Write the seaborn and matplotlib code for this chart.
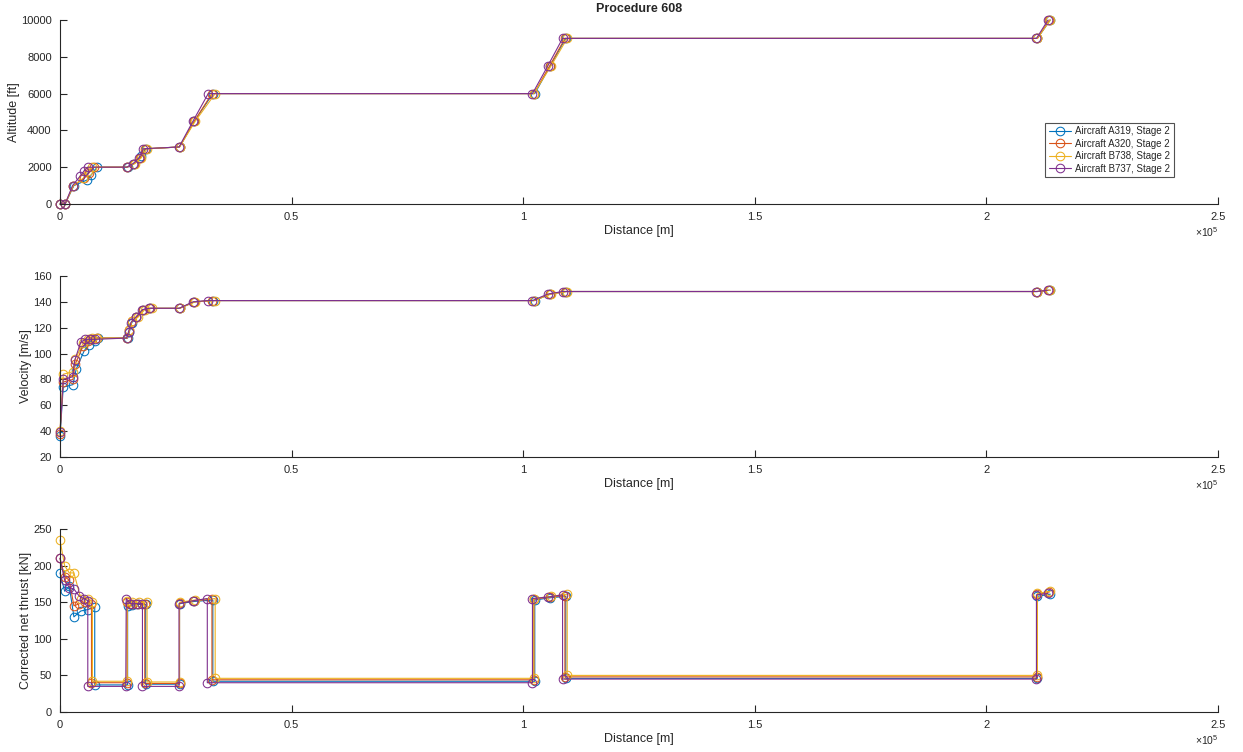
import numpy as np
import pandas as pd
import matplotlib
matplotlib.use("Agg")
import matplotlib.pyplot as plt
import seaborn as sns

# ---------------- data ----------------
aircraft = ["Aircraft A319, Stage 2", "Aircraft A320, Stage 2",
            "Aircraft B738, Stage 2", "Aircraft B737, Stage 2"]
colors = ["#0072BD", "#D95319", "#EDB120", "#7E2F8E"]

# Altitude [ft] vs distance [m]
alt_d_a319 = [0, 1100, 3000, 5800, 6800, 8000, 14600, 16000, 17500, 18500, 25800, 29000, 33000, 102500, 105800, 109200, 211000, 213800]
alt_h_a319 = [0, 0, 1000, 1300, 1600, 2000, 2000, 2200, 2600, 3000, 3100, 4500, 6000, 6000, 7500, 9000, 9000, 10000]
alt_d_a320 = [0, 1100, 2900, 5200, 6300, 7300, 14500, 16000, 17300, 18300, 25800, 29000, 32800, 102300, 105700, 109000, 211000, 213600]
alt_h_a320 = [0, 0, 1000, 1400, 1700, 2000, 2000, 2200, 2500, 3000, 3100, 4500, 6000, 6000, 7500, 9000, 9000, 10000]
alt_d_b738 = [0, 1100, 2900, 5000, 6000, 7000, 14500, 16200, 17500, 18800, 25800, 29200, 33500, 102300, 106000, 109500, 211000, 213800]
alt_h_b738 = [0, 0, 1000, 1400, 1800, 2000, 2000, 2200, 2500, 3000, 3100, 4500, 6000, 6000, 7500, 9000, 9000, 10000]
alt_d_b737 = [0, 1100, 2700, 4300, 5200, 6000, 14400, 15800, 17000, 18000, 25700, 28700, 32000, 102000, 105300, 108500, 210800, 213300]
alt_h_b737 = [0, 0, 1000, 1500, 1800, 2000, 2000, 2200, 2500, 3000, 3100, 4500, 6000, 6000, 7500, 9000, 9000, 10000]

# Velocity [m/s] vs distance [m]
vel_d_a319 = [0, 700, 2800, 3500, 5200, 6200, 7500, 8200, 14600, 15000, 15500, 16500, 18000, 19500, 25800, 29000, 33000, 102500, 105800, 109200, 211000, 213800]
vel_v_a319 = [36, 74, 76, 88, 102, 107, 110, 112, 112, 117, 124, 128, 134, 135, 135, 140, 141, 141, 146, 148, 148, 149]
vel_d_a320 = [0, 700, 2800, 3300, 5000, 6000, 7000, 8000, 14500, 15000, 15500, 16500, 18000, 19500, 25800, 29000, 32800, 102300, 105700, 109000, 211000, 213600]
vel_v_a320 = [38, 78, 80, 92, 106, 110, 111, 112, 112, 118, 125, 128, 134, 135, 135, 140, 141, 141, 146, 148, 148, 149]
vel_d_b738 = [0, 700, 2800, 3300, 5000, 6000, 7000, 8000, 14500, 15000, 15500, 16800, 18300, 19800, 25800, 29200, 33500, 102300, 106000, 109500, 211000, 213800]
vel_v_b738 = [40, 84, 86, 96, 108, 111, 112, 112, 112, 118, 125, 128, 134, 135, 135, 140, 141, 141, 146, 148, 148, 149]
vel_d_b737 = [0, 700, 2700, 3200, 4500, 5500, 6500, 7500, 14400, 14800, 15300, 16300, 17800, 19300, 25700, 28700, 32000, 102000, 105300, 108500, 210800, 213300]
vel_v_b737 = [39, 80, 82, 95, 109, 111, 111, 111, 112, 117, 124, 128, 134, 135, 135, 140, 141, 141, 146, 148, 148, 149]

# Corrected net thrust [kN] vs distance [m]
thr_d_a319 = [0, 1000, 2000, 3000, 4500, 6000, 7500, 7500, 14600, 14600, 15500, 16800, 18500, 18500, 25800, 25800, 29000, 33000, 33000, 102500, 102500, 105800, 109200, 109200, 211000, 211000, 213800]
thr_t_a319 = [190, 165, 172, 130, 138, 140, 143, 37, 37, 145, 146, 147, 147, 38, 38, 148, 151, 153, 42, 42, 153, 156, 158, 46, 46, 158, 161]
thr_d_a320 = [0, 1000, 2000, 3000, 4200, 5500, 6800, 6800, 14500, 14500, 15500, 16800, 18300, 18300, 25800, 25800, 29000, 32800, 32800, 102300, 102300, 105700, 109000, 109000, 211000, 211000, 213600]
thr_t_a320 = [210, 185, 180, 145, 148, 150, 148, 40, 40, 150, 148, 148, 148, 39, 39, 149, 152, 154, 44, 44, 154, 157, 159, 48, 48, 161, 164]
thr_d_b738 = [0, 1000, 2000, 3000, 4500, 6000, 7000, 7000, 14500, 14500, 15500, 17000, 18800, 18800, 25800, 25800, 29200, 33500, 33500, 102300, 102300, 106000, 109500, 109500, 211000, 211000, 213800]
thr_t_b738 = [235, 200, 190, 190, 155, 155, 150, 42, 42, 152, 150, 150, 150, 41, 41, 150, 153, 155, 46, 46, 155, 158, 161, 50, 50, 162, 165]
thr_d_b737 = [0, 1000, 2000, 3000, 4200, 5200, 6000, 6000, 14200, 14300, 15200, 16500, 17800, 17800, 25700, 25700, 28700, 31800, 31800, 102000, 102000, 105300, 108500, 108500, 210800, 210800, 213300]
thr_t_b737 = [210, 180, 170, 168, 158, 155, 152, 35, 35, 155, 148, 148, 148, 35, 35, 148, 152, 155, 40, 40, 155, 157, 160, 45, 45, 160, 162]

x_ticks = [0, 50000, 100000, 150000, 200000, 250000]
x_tick_labels = ["0", "0.5", "1", "1.5", "2", "2.5"]


def frame(ds, vs):
    rows = []
    for name, d, v in zip(aircraft, ds, vs):
        for i, (xx, yy) in enumerate(zip(d, v)):
            rows.append({"aircraft": name, "order": i, "distance": xx, "value": yy})
    return pd.DataFrame(rows)


alt_df = frame([alt_d_a319, alt_d_a320, alt_d_b738, alt_d_b737],
               [alt_h_a319, alt_h_a320, alt_h_b738, alt_h_b737])
vel_df = frame([vel_d_a319, vel_d_a320, vel_d_b738, vel_d_b737],
               [vel_v_a319, vel_v_a320, vel_v_b738, vel_v_b737])
thr_df = frame([thr_d_a319, thr_d_a320, thr_d_b738, thr_d_b737],
               [thr_t_a319, thr_t_a320, thr_t_b738, thr_t_b737])

# ---------------- plot ----------------
sns.set_theme(style="white")
plt.rcParams["font.family"] = ["Liberation Sans", "DejaVu Sans"]
plt.rcParams["mathtext.fontset"] = "custom"
plt.rcParams["mathtext.rm"] = "Liberation Sans"

W, H = 1243, 752
fig = plt.figure(figsize=(W / 100, H / 100), dpi=100)
axc = "#262626"

panels = [
    (alt_df, "Altitude [ft]", (0, 10000), np.arange(0, 10001, 2000), 204, 184),
    (vel_df, "Velocity [m/s]", (20, 160), np.arange(20, 161, 20), 457, 181),
    (thr_df, "Corrected net thrust [kN]", (0, 250), np.arange(0, 251, 50), 712, 183),
]

axes = []
for k, (df, ylab, ylim, yt, bot_px, h_px) in enumerate(panels):
    ax = fig.add_axes([60 / W, (H - bot_px) / H, 1158 / W, h_px / H])
    axes.append(ax)
    for name, c in zip(aircraft, colors):
        sub = df[df["aircraft"] == name].sort_values("order")
        sns.lineplot(data=sub, x="distance", y="value", ax=ax, sort=False,
                     estimator=None, color=c, linewidth=0.8, marker="o",
                     markersize=6.2, markerfacecolor="none", markeredgecolor=c,
                     markeredgewidth=0.75, label=name, clip_on=False)
    ax.set_xlim(0, 250000)
    ax.set_ylim(*ylim)
    ax.set_xticks(x_ticks)
    ax.set_xticklabels(x_tick_labels)
    ax.set_yticks(yt)
    ax.tick_params(bottom=True, left=True, direction="in", length=5,
                   width=0.8, colors=axc, labelsize=8, pad=6)
    for s in ["top", "right"]:
        ax.spines[s].set_visible(False)
    for s in ["left", "bottom"]:
        ax.spines[s].set_color(axc)
        ax.spines[s].set_linewidth(0.8)
    ax.set_xlabel("Distance [m]", fontsize=9, color=axc, labelpad=2)
    ax.set_ylabel(ylab, fontsize=9, color=axc, labelpad=1)
    ax.text(1.0, -0.115, r"$\times10^{5}$", transform=ax.transAxes,
            ha="right", va="top", fontsize=7.5, color=axc)
    if k == 0:
        leg = ax.legend(loc="upper left", bbox_to_anchor=(0.851, 0.44),
                        fontsize=7, frameon=True, fancybox=False,
                        borderpad=0.35, labelspacing=0.25, handlelength=2.3,
                        handletextpad=0.4, borderaxespad=0)
        leg.get_frame().set_edgecolor("#262626")
        leg.get_frame().set_linewidth(0.8)
    else:
        lg = ax.get_legend()
        if lg is not None:
            lg.remove()

axes[0].set_title("Procedure 608", fontsize=9, fontweight="bold", pad=6)

fig.savefig("out.png", dpi=100, facecolor="white")
